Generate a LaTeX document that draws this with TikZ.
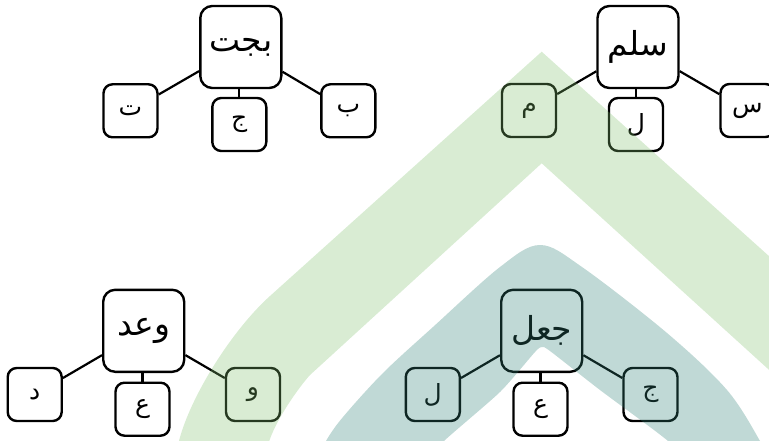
\documentclass[tikz,border=0pt]{standalone}
\usepackage{fontspec}
\newfontfamily\arabicfont[Script=Arabic]{DejaVu Sans}
\TeXXeTstate=1
\newcommand{\artxt}[1]{\arabicfont\beginR #1\endR}
\definecolor{wmgreen}{RGB}{128,192,108}
\definecolor{wmteal}{RGB}{48,128,118}
\begin{document}
\begin{tikzpicture}[x=1pt,y=-1pt,
  bigbox/.style={draw, line width=2.4pt, rounded corners=12pt, minimum width=81pt, minimum height=82pt, inner sep=0pt, font=\fontsize{33}{36}\selectfont},
  smallbox/.style={draw, line width=2.4pt, rounded corners=9pt, minimum width=54pt, minimum height=53pt, inner sep=0pt, font=\fontsize{25}{28}\selectfont},
  link/.style={line width=2.2pt},
  wm/.style={opacity=0.3}]
\useasboundingbox (0,0) rectangle (769,441);
\clip (0,0) rectangle (769,441);
% group 1
\node[bigbox] (g1) at (240.8,47) {\artxt{بجت}};
\node[smallbox] (g1l) at (130.5,110.8) {\artxt{ت}};
\node[smallbox] (g1m) at (239.3,124.5) {\artxt{ج}};
\node[smallbox] (g1r) at (348.3,110.8) {\artxt{ب}};
\draw[link] (g1) -- (g1l);
\draw[link] (g1) -- (g1r);
\draw[link] (g1m.north) -- (g1m.north |- g1.south);
% group 2
\node[bigbox] (g2) at (638,47) {\artxt{سلم}};
\node[smallbox] (g2l) at (529,110.5) {\artxt{م}};
\node[smallbox] (g2m) at (636,124.5) {\artxt{ل}};
\node[smallbox] (g2r) at (747.5,110.5) {\artxt{س}};
\draw[link] (g2) -- (g2l);
\draw[link] (g2) -- (g2r);
\draw[link] (g2m.north) -- (g2m.north |- g2.south);
% group 3
\node[bigbox] (g3) at (143.7,330.8) {\artxt{وعد}};
\node[smallbox] (g3l) at (34.7,394.5) {\artxt{د}};
\node[smallbox] (g3m) at (142.5,409.2) {\artxt{ع}};
\node[smallbox] (g3r) at (253,394.5) {\artxt{و}};
\draw[link] (g3) -- (g3l);
\draw[link] (g3) -- (g3r);
\draw[link] (g3m.north) -- (g3m.north |- g3.south);
% group 4
\node[bigbox] (g4) at (541.7,330.8) {\artxt{جعل}};
\node[smallbox] (g4l) at (432.8,394.5) {\artxt{ل}};
\node[smallbox] (g4m) at (540.5,409.2) {\artxt{ع}};
\node[smallbox] (g4r) at (650.5,394.5) {\artxt{ج}};
\draw[link] (g4) -- (g4l);
\draw[link] (g4) -- (g4r);
\draw[link] (g4m.north) -- (g4m.north |- g4.south);
% watermark
\fill[wmgreen, wm] (178,445) .. controls (188,400) and (231,331) .. (270,296) -- (541.7,51.7) -- (800,284) -- (800,398) -- (541.7,163.3) -- (310,375) .. controls (300,386) and (275,420) .. (268,445) -- cycle;
\fill[wmteal, wm] plot[smooth, tension=0.55] coordinates {(318,460) (326,441) (343,417) (383,373) (433,327) (500,267) (540,245) (582,267) (667,333) (727,390) (760,441) (768,460)}
  -- plot[smooth, tension=0.4] coordinates {(680,460) (668,441) (600,390) (550,351) (542,347) (535,352) (500,392) (444,441) (430,460)} -- cycle;
\end{tikzpicture}
\end{document}
